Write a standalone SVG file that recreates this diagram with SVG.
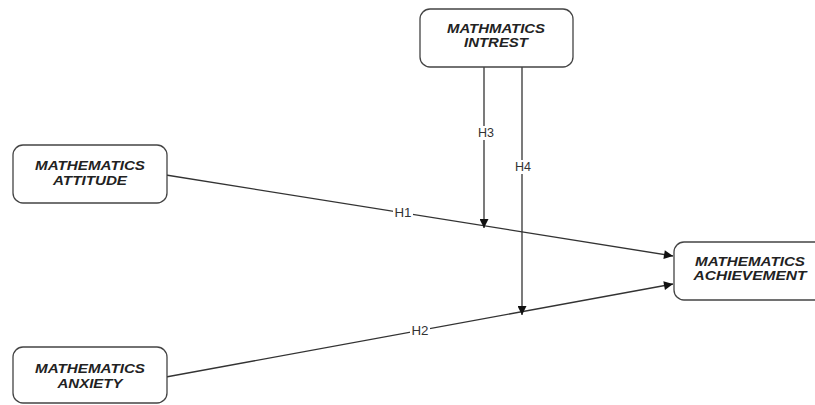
<svg xmlns="http://www.w3.org/2000/svg" width="815" height="405" viewBox="0 0 815 405">
<style>
.box{fill:#fff;stroke:#444;stroke-width:1.3}
.nt{font-family:"Liberation Sans",Arial,sans-serif;font-size:12px;font-weight:bold;font-style:italic;fill:#222;text-anchor:middle}
.ln{stroke:#333;stroke-width:1.3;fill:none}
.lb{font-family:"Liberation Sans",Arial,sans-serif;font-size:12px;fill:#333;text-anchor:middle}
</style>
<defs>
<marker id="ah" viewBox="0 0 10 10" refX="10" refY="5" markerUnits="userSpaceOnUse" markerWidth="10" markerHeight="9" orient="auto">
<path d="M0,0 L10,5 L0,10 z" fill="#111"/>
</marker>
</defs>
<rect width="815" height="405" fill="#fff"/>
<g id="connectors">
<line class="ln" x1="166" y1="175" x2="673" y2="256" marker-end="url(#ah)"/>
<line class="ln" x1="166" y1="377" x2="673" y2="284" marker-end="url(#ah)"/>
<line class="ln" x1="484" y1="67" x2="484" y2="228" marker-end="url(#ah)"/>
<line class="ln" x1="522" y1="67" x2="522" y2="315" marker-end="url(#ah)"/>
<rect x="393" y="206" width="20" height="14" fill="#fff"/>
<text class="lb" x="403" y="217" textLength="17" lengthAdjust="spacingAndGlyphs">H1</text>
<rect x="410" y="324" width="20" height="14" fill="#fff"/>
<text class="lb" x="420" y="335" textLength="17" lengthAdjust="spacingAndGlyphs">H2</text>
<rect x="476" y="126" width="18" height="14" fill="#fff"/>
<text class="lb" x="486" y="137" textLength="16" lengthAdjust="spacingAndGlyphs">H3</text>
<rect x="513" y="160" width="18" height="14" fill="#fff"/>
<text class="lb" x="523" y="171" textLength="16" lengthAdjust="spacingAndGlyphs">H4</text>
</g>
<g id="attitude">
<rect class="box" x="13" y="145" width="154" height="58" rx="10"/>
<text class="nt" x="90" y="170" textLength="110" lengthAdjust="spacingAndGlyphs">MATHEMATICS</text>
<text class="nt" x="90" y="185" textLength="74" lengthAdjust="spacingAndGlyphs">ATTITUDE</text>
</g>
<g id="interest">
<rect class="box" x="420" y="9" width="153" height="58" rx="10"/>
<text class="nt" x="496" y="33" textLength="98" lengthAdjust="spacingAndGlyphs">MATHMATICS</text>
<text class="nt" x="496" y="47" textLength="64" lengthAdjust="spacingAndGlyphs">INTREST</text>
</g>
<g id="achievement">
<rect class="box" x="674" y="242" width="154" height="58" rx="10"/>
<text class="nt" x="750" y="266" textLength="110" lengthAdjust="spacingAndGlyphs">MATHEMATICS</text>
<text class="nt" x="750" y="280" textLength="113" lengthAdjust="spacingAndGlyphs">ACHIEVEMENT</text>
</g>
<g id="anxiety">
<rect class="box" x="13" y="347" width="154" height="56" rx="10"/>
<text class="nt" x="90" y="373" textLength="110" lengthAdjust="spacingAndGlyphs">MATHEMATICS</text>
<text class="nt" x="90" y="388" textLength="65" lengthAdjust="spacingAndGlyphs">ANXIETY</text>
</g>
</svg>
